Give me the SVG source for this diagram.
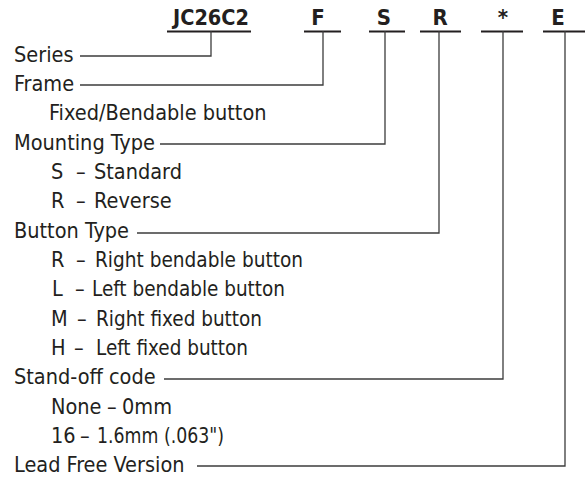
<svg xmlns="http://www.w3.org/2000/svg" width="586" height="480" viewBox="0 0 586 480">
<style>
.t{font-family:"DejaVu Sans Condensed","DejaVu Sans","Liberation Sans",sans-serif;font-size:21.5px;fill:#231f20}
.c{font-family:"DejaVu Sans Condensed","DejaVu Sans","Liberation Sans",sans-serif;font-size:22px;font-weight:bold;fill:#231f20;text-anchor:middle}
.u{stroke:#231f20;stroke-width:2.2;fill:none}
.l{stroke:#3c3c3c;stroke-width:1.3;fill:none}
</style>
<rect width="586" height="480" fill="#ffffff"/>
<g id="code">
<text class="c" x="211" y="25" textLength="76" lengthAdjust="spacingAndGlyphs">JC26C2</text>
<text class="c" x="318" y="25">F</text>
<text class="c" x="384" y="25">S</text>
<text class="c" x="440" y="25">R</text>
<text class="c" x="503" y="25">*</text>
<text class="c" x="558" y="25">E</text>
<path class="u" d="M167 31.5H251M304 31.5H341M369 31.5H405M420 31.5H461M481 31.5H523M543 31.5H585"/>
</g>
<g id="connectors">
<path class="l" d="M80 56H211V31"/>
<path class="l" d="M80 85H323V31"/>
<path class="l" d="M160 144H385V31"/>
<path class="l" d="M137 233H439V31"/>
<path class="l" d="M164 379H503V31"/>
<path class="l" d="M197 466H565V31"/>
</g>
<g id="series"><text class="t" x="14" y="62">Series</text></g>
<g id="frame">
<text class="t" x="14" y="91">Frame</text>
<text class="t" x="49" y="120">Fixed/Bendable button</text>
</g>
<g id="mounting">
<text class="t" x="14" y="150" textLength="141" lengthAdjust="spacingAndGlyphs">Mounting Type</text>
<text class="t" y="179"><tspan x="51">S</tspan><tspan x="76">–</tspan><tspan x="94">Standard</tspan></text>
<text class="t" y="208"><tspan x="51">R</tspan><tspan x="76">–</tspan><tspan x="94">Reverse</tspan></text>
</g>
<g id="button">
<text class="t" x="14" y="238">Button Type</text>
<text class="t" y="267"><tspan x="51">R</tspan><tspan x="76">–</tspan><tspan x="95" textLength="208" lengthAdjust="spacingAndGlyphs">Right bendable button</tspan></text>
<text class="t" y="296"><tspan x="52">L</tspan><tspan x="75">–</tspan><tspan x="92" textLength="193" lengthAdjust="spacingAndGlyphs">Left bendable button</tspan></text>
<text class="t" y="326"><tspan x="51">M</tspan><tspan x="77">–</tspan><tspan x="96" textLength="166" lengthAdjust="spacingAndGlyphs">Right fixed button</tspan></text>
<text class="t" y="355"><tspan x="51">H</tspan><tspan x="74">–</tspan><tspan x="96" textLength="152" lengthAdjust="spacingAndGlyphs">Left fixed button</tspan></text>
</g>
<g id="standoff">
<text class="t" x="14" y="384">Stand-off code</text>
<text class="t" y="414"><tspan x="51">None</tspan><tspan x="107">–</tspan><tspan x="122">0mm</tspan></text>
<text class="t" y="443"><tspan x="51">16</tspan><tspan x="80">–</tspan><tspan x="97" textLength="127" lengthAdjust="spacingAndGlyphs">1.6mm (.063")</tspan></text>
</g>
<g id="leadfree"><text class="t" x="14" y="472">Lead Free Version</text></g>
</svg>
